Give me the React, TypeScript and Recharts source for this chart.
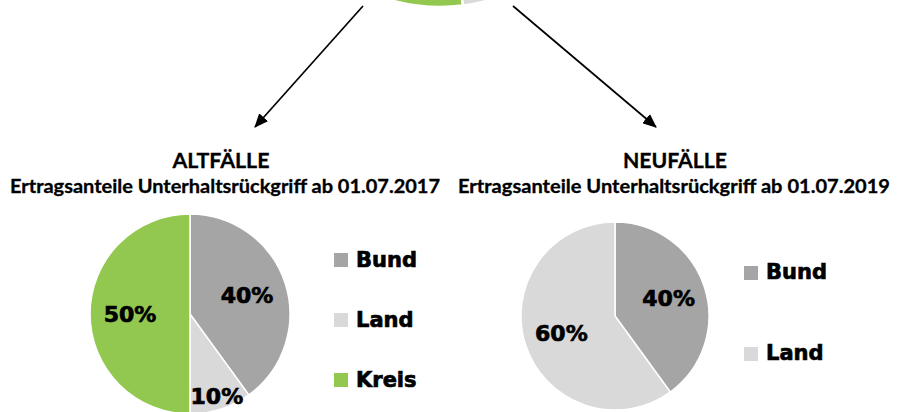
// Ertragsanteile Unterhaltsrückgriff — old vs. new cases, with the
// partly cut-off overview pie at the top and arrows into both splits.

import { Cell, Pie, PieChart } from "recharts";

const topNames = ["Bund", "Land", "Kreis"];
const topShares = [33.3, 14.7, 52];

const altNames = ["Bund", "Land", "Kreis"];
const altShares = [40, 10, 50];

const neuNames = ["Bund", "Land"];
const neuShares = [40, 60];

const titles = ["ALTFÄLLE", "NEUFÄLLE"];
const subtitles = [
  "Ertragsanteile Unterhaltsrückgriff ab 01.07.2017",
  "Ertragsanteile Unterhaltsrückgriff ab 01.07.2019",
];

const COLORS: Record<string, string> = {
  Bund: "#A5A5A5",
  Land: "#D9D9D9",
  Kreis: "#92C850",
};

const HEAVY = "'DejaVu Sans', 'Liberation Sans', sans-serif";
const TITLE_FONT = "Lato, 'Open Sans', sans-serif";
const RAD = Math.PI / 180;

const toRows = (names: string[], shares: number[]) =>
  names.map((name, i) => ({ name, value: shares[i] }));

// percentage inside the slice; thin slices push their label out to the rim
function pctLabel(p: any) {
  const k = p.percent < 0.15 ? 0.87 : 0.6;
  const r = p.outerRadius * k;
  const x = p.cx + r * Math.cos(-p.midAngle * RAD);
  const y = p.cy + r * Math.sin(-p.midAngle * RAD);
  return (
    <text
      x={x}
      y={y}
      textAnchor="middle"
      dominantBaseline="central"
      fontFamily={HEAVY}
      fontWeight={700}
      fontSize={22}
      fill="#000"
      stroke="#000"
      strokeWidth={0.7}
    >
      {`${Math.round(p.percent * 100)}%`}
    </text>
  );
}

// legend kept outside the chart so it doesn't eat into the pie's offset
function KeyList({
  names,
  left,
  top,
  rowH,
}: {
  names: string[];
  left: number;
  top: number;
  rowH: number;
}) {
  return (
    <div style={{ position: "absolute", left, top, display: "flex", flexDirection: "column" }}>
      {names.map((n) => (
        <div key={n} style={{ height: rowH, display: "flex", alignItems: "center" }}>
          <span
            style={{
              width: 14,
              height: 14,
              background: COLORS[n],
              marginRight: 8,
              display: "inline-block",
            }}
          />
          <span
            style={{
              fontFamily: HEAVY,
              fontWeight: 700,
              fontSize: 21,
              color: "#000",
              lineHeight: 1,
              WebkitTextStroke: "0.7px #000",
            }}
          >
            {n}
          </span>
        </div>
      ))}
    </div>
  );
}

function SplitPie({
  names,
  shares,
  left,
  width,
  cx,
  cy,
  r,
}: {
  names: string[];
  shares: number[];
  left: number;
  width: number;
  cx: number;
  cy: number;
  r: number;
}) {
  const rows = toRows(names, shares);
  return (
    <div style={{ position: "absolute", left, top: 200 }}>
      <PieChart width={width} height={212} margin={{ top: 0, right: 0, bottom: 0, left: 0 }}>
        <Pie
          data={rows}
          dataKey="value"
          nameKey="name"
          cx={cx}
          cy={cy}
          outerRadius={r}
          startAngle={90}
          endAngle={-270}
          stroke="#fff"
          strokeWidth={1.5}
          labelLine={false}
          label={pctLabel}
          isAnimationActive={false}
        >
          {rows.map((d) => (
            <Cell key={d.name} fill={COLORS[d.name]} />
          ))}
        </Pie>
      </PieChart>
    </div>
  );
}

export default function App() {
  const top = toRows(topNames, topShares);
  return (
    <div
      style={{
        position: "absolute",
        left: 0,
        top: 0,
        width: 903,
        height: 412,
        background: "#fff",
        overflow: "hidden",
      }}
    >
      {/* overview pie, only its lower rim is on the page */}
      <div style={{ position: "absolute", left: 0, top: 0 }}>
        <PieChart width={903} height={40} margin={{ top: 0, right: 0, bottom: 0, left: 0 }}>
          <Pie
            data={top}
            dataKey="value"
            nameKey="name"
            cx={440}
            cy={-175}
            outerRadius={182}
            startAngle={90}
            endAngle={-270}
            stroke="#fff"
            strokeWidth={2.5}
            isAnimationActive={false}
          >
            {top.map((d) => (
              <Cell key={d.name} fill={COLORS[d.name]} />
            ))}
          </Pie>
        </PieChart>
      </div>

      <svg
        width={903}
        height={412}
        style={{ position: "absolute", left: 0, top: 0, pointerEvents: "none" }}
      >
        <defs>
          <marker
            id="head"
            markerUnits="userSpaceOnUse"
            markerWidth={14}
            markerHeight={12}
            refX={13}
            refY={6}
            orient="auto"
          >
            <path d="M0,0 L14,6 L0,12 z" fill="#000" />
          </marker>
        </defs>
        <line x1={363} y1={6} x2={255} y2={127} stroke="#000" strokeWidth={1.7} markerEnd="url(#head)" />
        <line x1={513} y1={6} x2={656} y2={127} stroke="#000" strokeWidth={1.7} markerEnd="url(#head)" />

        <text x={221} y={168} textAnchor="middle" fontFamily={TITLE_FONT} fontWeight={700} fontSize={20} textLength={97} lengthAdjust="spacingAndGlyphs" stroke="#000" strokeWidth={0.3}>
          {titles[0]}
        </text>
        <text x={225} y={193} textAnchor="middle" fontFamily={TITLE_FONT} fontWeight={700} fontSize={18} textLength={430} lengthAdjust="spacingAndGlyphs" stroke="#000" strokeWidth={0.3}>
          {subtitles[0]}
        </text>
        <text x={675} y={168} textAnchor="middle" fontFamily={TITLE_FONT} fontWeight={700} fontSize={20} textLength={104} lengthAdjust="spacingAndGlyphs" stroke="#000" strokeWidth={0.3}>
          {titles[1]}
        </text>
        <text x={674} y={193} textAnchor="middle" fontFamily={TITLE_FONT} fontWeight={700} fontSize={18} textLength={432} lengthAdjust="spacingAndGlyphs" stroke="#000" strokeWidth={0.3}>
          {subtitles[1]}
        </text>
      </svg>

      <SplitPie names={altNames} shares={altShares} left={0} width={450} cx={190} cy={114} r={100} />
      <KeyList names={altNames} left={334} top={230} rowH={60} />

      <SplitPie names={neuNames} shares={neuShares} left={450} width={453} cx={165} cy={116} r={94} />
      <KeyList names={neuNames} left={744} top={232} rowH={81} />
    </div>
  );
}
